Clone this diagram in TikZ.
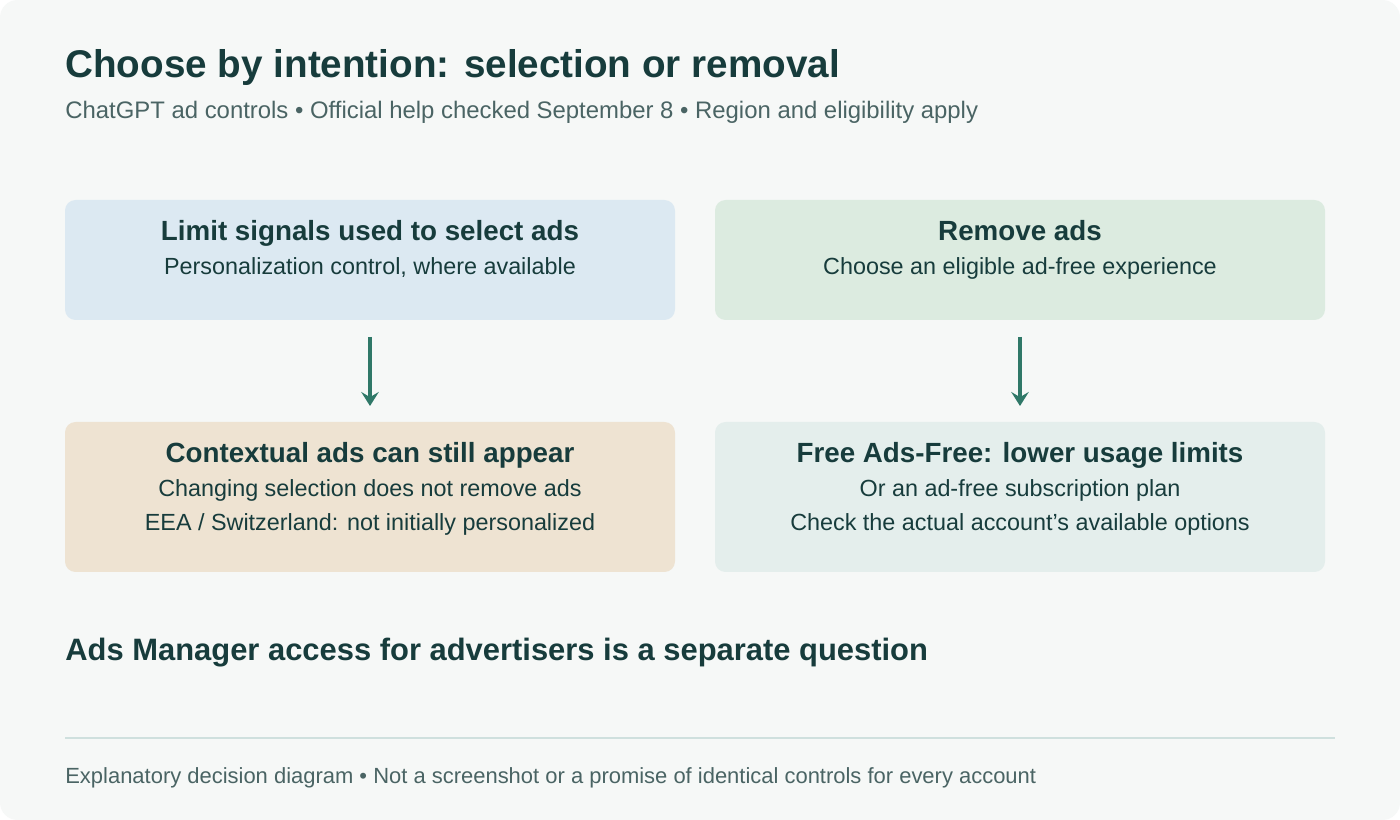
\documentclass[tikz,border=0pt]{standalone}
\usepackage{fontspec}
\setmainfont{Liberation Sans}
\usetikzlibrary{positioning, calc, arrows.meta}
\definecolor{bgpage}{HTML}{F6F8F7}
\definecolor{ink}{HTML}{173C3C}
\definecolor{subink}{HTML}{4A6464}
\definecolor{arrowc}{HTML}{2F7868}
\definecolor{boxblue}{HTML}{DCE9F2}
\definecolor{boxgreen}{HTML}{DCEBE0}
\definecolor{boxtan}{HTML}{EEE3D2}
\definecolor{boxgray}{HTML}{E4EEEC}
\definecolor{rulec}{HTML}{CFE0DE}
\tikzset{boxtitle/.style={font=\fontsize{15.8}{18}\selectfont\bfseries, text=ink}}
\tikzset{boxline/.style={font=\fontsize{13.3}{15}\selectfont, text=ink}}
\tikzset{flow/.style={-{Stealth[length=8pt,width=10pt,inset=3pt]}, arrowc, line width=2.2pt}}
\begin{document}
\begin{tikzpicture}[x=0.02cm, y=-0.02cm, inner sep=0pt]
      \useasboundingbox (0,0) rectangle (1400,820);
      \fill[white] (0,0) rectangle (1400,820);
      \fill[bgpage, rounded corners=10pt] (0,0) rectangle (1400,820);

      \node[anchor=base west, font=\fontsize{22}{26}\selectfont\bfseries, text=ink] (title) at (65,78) {Choose by intention: selection or removal};
      \node[anchor=base west, font=\fontsize{13.6}{16}\selectfont, text=subink] (sub) at (65,119) {ChatGPT ad controls • Official help checked September 8 • Region and eligibility apply};

      \fill[boxblue, rounded corners=6pt] (65,200) rectangle (675,320);
      \fill[boxgreen, rounded corners=6pt] (715,200) rectangle (1325,320);
      \fill[boxtan, rounded corners=6pt] (65,422) rectangle (675,572);
      \fill[boxgray, rounded corners=6pt] (715,422) rectangle (1325,572);

      \node[boxtitle, anchor=base] (limit) at (370,241) {Limit signals used to select ads};
      \node[boxline, anchor=base] (limitsub) at (370,275) {Personalization control, where available};
      \node[boxtitle, anchor=base] (remove) at (1020,241) {Remove ads};
      \node[boxline, anchor=base] (removesub) at (1020,275) {Choose an eligible ad-free experience};

      \node[boxtitle, anchor=base] (context) at (370,463) {Contextual ads can still appear};
      \node[boxline, anchor=base] (ctxa) at (370,497) {Changing selection does not remove ads};
      \node[boxline, anchor=base] (ctxb) at (370,531) {EEA / Switzerland: not initially personalized};
      \node[boxtitle, anchor=base] (free) at (1020,463) {Free Ads-Free: lower usage limits};
      \node[boxline, anchor=base] (freea) at (1020,497) {Or an ad-free subscription plan};
      \node[boxline, anchor=base] (freeb) at (1020,531) {Check the actual account’s available options};

      \coordinate (la) at (370,337); \coordinate (lb) at (370,406);
      \coordinate (ra) at (1020,337); \coordinate (rb) at (1020,406);
      \draw[flow] (la) -- (lb);
      \draw[flow] (ra) -- (rb);

      \node[anchor=base west, font=\fontsize{17.6}{20}\selectfont\bfseries, text=ink] (ads) at (65,661) {Ads Manager access for advertisers is a separate question};
      \draw[rulec, line width=1.7pt] (65,738) -- (1335,738);
      \node[anchor=base west, font=\fontsize{12.5}{14}\selectfont, text=subink] (foot) at (65,783) {Explanatory decision diagram • Not a screenshot or a promise of identical controls for every account};
    \end{tikzpicture}
\end{document}
